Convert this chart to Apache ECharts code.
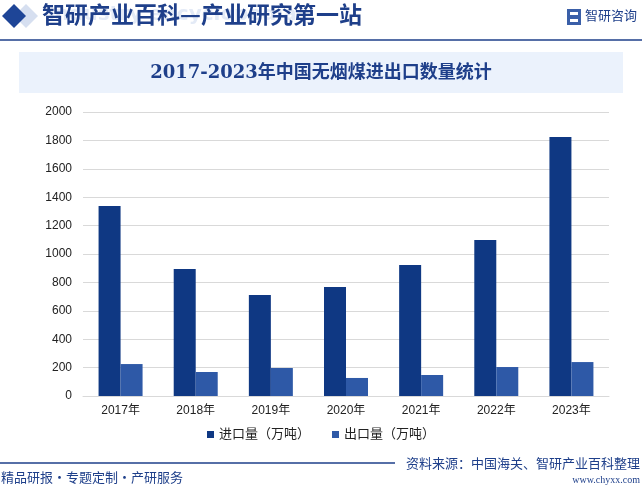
<!DOCTYPE html>
<html><head><meta charset="utf-8">
<script src="https://cdn.jsdelivr.net/npm/echarts@6/dist/echarts.min.js"></script>
<style>html,body{margin:0;padding:0;background:#fff}#c{width:642px;height:487px}</style>
</head><body><div id="c"></div>
<script>
var categories = ['2017年','2018年','2019年','2020年','2021年','2022年','2023年'];
var importVals = [1338, 894, 711, 768, 922, 1099, 1824];
var exportVals = [225, 169, 197, 127, 148, 204, 239];
var seriesNames = ['进口量（万吨）','出口量（万吨）'];
var yTicks = {min:0, max:2000, interval:200};
var titleText = '2017-2023年中国无烟煤进出口数量统计';

var chart = echarts.init(document.getElementById('c'));
var cjk = '"Liberation Sans", Arial, "Noto Sans CJK SC", sans-serif';
chart.setOption({
  backgroundColor:'#fff',
  animation:false,
  graphic:[
    {type:'polygon', shape:{points:[[26,4],[38,16],[26,28],[14,16]]}, style:{fill:'#d6dff0'}},
    {type:'polygon', shape:{points:[[14,4],[26,16],[14,28],[2,16]]}, style:{fill:'#1e4597'}},
    {type:'text', x:48, y:5, style:{text:'industry encyclopedia', fill:'#e3eaf6', font:'bold 20px "DejaVu Sans", sans-serif'}},
    {type:'text', x:42, y:3, style:{text:'智研产业百科—产业研究第一站', fill:'#1e3f8a', font:'bold 23px "Noto Sans CJK SC", serif'}},
    {type:'rect', shape:{x:567, y:9, width:14, height:16}, style:{fill:'#3a5fa8'}},
    {type:'rect', shape:{x:570, y:12, width:8, height:3}, style:{fill:'#fff'}},
    {type:'rect', shape:{x:570, y:19, width:8, height:3}, style:{fill:'#fff'}},
    {type:'text', x:585, y:9, style:{text:'智研咨询', fill:'#1e3f8a', font:'13px "Noto Sans CJK SC", sans-serif'}},
    {type:'line', shape:{x1:0, y1:40, x2:642, y2:40}, style:{stroke:'#1e3f8a', lineWidth:1.5}},
    {type:'rect', shape:{x:19, y:52, width:604, height:41}, style:{fill:'#ebf2fc'}},
    {type:'text', x:321, y:73, style:{text:titleText, fill:'#1e3f8a', font:'bold 18px "DejaVu Serif", "Noto Sans CJK SC", serif', textAlign:'center', textVerticalAlign:'middle'}},
    {type:'line', shape:{x1:0, y1:463, x2:395, y2:463}, style:{stroke:'#1e3f8a', lineWidth:1.5}},
    {type:'text', x:640, y:463, style:{text:'资料来源：中国海关、智研产业百科整理', fill:'#1e3f8a', font:'13px "Noto Sans CJK SC", sans-serif', textAlign:'right', textVerticalAlign:'middle'}},
    {type:'text', x:1, y:477, style:{text:'精品研报·专题定制·产研服务', fill:'#1e3f8a', font:'13px "Noto Sans CJK SC", sans-serif', textVerticalAlign:'middle'}},
    {type:'text', x:640, y:480, style:{text:'www.chyxx.com', fill:'#1e3f8a', font:'10px "Liberation Serif", serif', textAlign:'right', textVerticalAlign:'middle'}}
  ],
  legend:{
    data:seriesNames, bottom:41, left:'center', itemWidth:7, itemHeight:7, itemGap:22, icon:'rect',
    textStyle:{color:'#222', fontSize:13, fontFamily:cjk}
  },
  grid:{left:83, right:33, top:112, bottom:91},
  xAxis:{
    type:'category', data:categories,
    axisLine:{lineStyle:{color:'#d9d9d9'}}, axisTick:{show:false},
    axisLabel:{color:'#222', fontSize:12, fontFamily:cjk, margin:9}
  },
  yAxis:{
    type:'value', min:yTicks.min, max:yTicks.max, interval:yTicks.interval,
    axisLine:{show:false}, axisTick:{show:false},
    splitLine:{lineStyle:{color:'#d9d9d9'}},
    axisLabel:{color:'#222', fontSize:12, fontFamily:cjk, margin:11, formatter:function(v){return String(v);}}
  },
  series:[
    {name:seriesNames[0], type:'bar', data:importVals, barWidth:22, barGap:'0%', itemStyle:{color:'#0f3883'}},
    {name:seriesNames[1], type:'bar', data:exportVals, barWidth:22, barGap:'0%', itemStyle:{color:'#2e59a7'}}
  ]
});
</script></body></html>
